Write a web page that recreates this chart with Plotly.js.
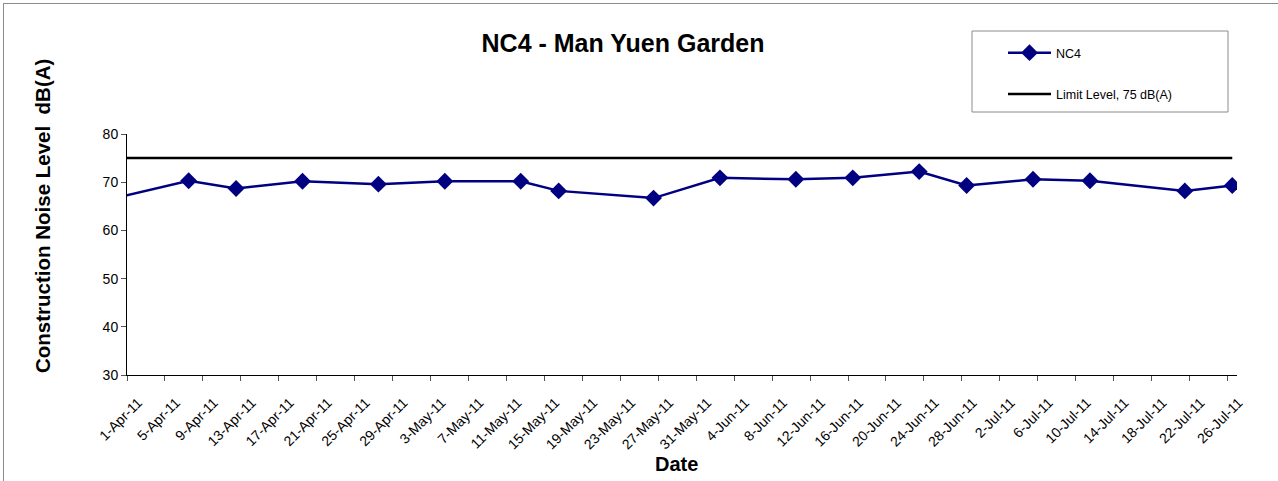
<!DOCTYPE html>
<html>
<head>
<meta charset="utf-8">
<script src="https://cdn.plot.ly/plotly-3.0.1.min.js"></script>
<style>
  body { margin: 0; background: #ffffff; overflow: hidden; }
  #chart { position: absolute; left: 0; top: 0; width: 1278px; height: 481px; }
  #frame { position: absolute; left: 3px; top: 3px; width: 1300px; height: 500px;
           border: 1px solid #8c8c8c; pointer-events: none; }
</style>
</head>
<body>
<div id="chart"></div>
<div id="frame"></div>
<script>
// monitoring dates (first one sits before the axis start, so its segment is clipped)
var dates = ['2011-03-28', '2011-04-07', '2011-04-12', '2011-04-19', '2011-04-27',
             '2011-05-04', '2011-05-12', '2011-05-16', '2011-05-26', '2011-06-02',
             '2011-06-10', '2011-06-16', '2011-06-23', '2011-06-28', '2011-07-05',
             '2011-07-11', '2011-07-21', '2011-07-26'];
// measured noise level at NC4, dB(A)
var nc4Levels = [65.7, 70.3, 68.7, 70.2, 69.6,
                 70.2, 70.2, 68.2, 66.7, 70.9,
                 70.6, 70.9, 72.2, 69.3, 70.6,
                 70.3, 68.2, 69.3];
// limit level line
var limitDates = ['2011-03-28', '2011-07-26'];
var limitLevels = [75, 75];

var W = 1278, H = 481;
var ml = 127, mr = 41, mt = 134, mb = 106;
var pw = W - ml - mr, ph = H - mt - mb;

// pixel -> paper helpers
function px2x(px) { return (px - ml) / pw; }
function px2y(py) { return (H - mb - py) / ph; }

// excel date axis puts each point in the middle of its day slot
function midDay(d) { return d + ' 12:00'; }

var font = 'Liberation Sans, Arial, sans-serif';

var traces = [
  {
    type: 'scatter',
    mode: 'lines+markers',
    name: 'NC4',
    legendgroup: 'a',
    x: dates.map(midDay),
    y: nc4Levels,
    line: {color: '#000080', width: 2.5},
    marker: {symbol: 'diamond', size: 13, color: '#000080'}
  },
  {
    type: 'scatter',
    mode: 'lines',
    name: 'Limit Level, 75 dB(A)',
    legendgroup: 'b',
    x: limitDates.map(midDay),
    y: limitLevels,
    line: {color: '#000000', width: 2.5}
  }
];

var layout = {
  width: W,
  height: H,
  margin: {l: ml, r: mr, t: mt, b: mb},
  paper_bgcolor: '#ffffff',
  plot_bgcolor: '#ffffff',
  font: {family: font, size: 12, color: '#000000'},
  showlegend: true,
  title: {
    text: '<b>NC4 - Man Yuen Garden</b>',
    font: {family: font, size: 25, color: '#000000'},
    xref: 'container', x: 623 / W, xanchor: 'center',
    yref: 'container', y: 1 - 43 / H, yanchor: 'middle'
  },
  xaxis: {
    type: 'date',
    range: ['2011-04-01', '2011-07-27'],
    tick0: '2011-04-01',
    dtick: 4 * 86400000,
    tickformat: '%-d-%b-%y',
    tickangle: -45,
    tickfont: {family: font, size: 14},
    ticklabelshift: 11,
    ticklabelstandoff: 8,
    ticks: 'outside',
    ticklen: 5,
    tickcolor: '#555555',
    showline: true,
    linecolor: '#000000',
    linewidth: 1,
    showgrid: false,
    zeroline: false,
    fixedrange: true
  },
  yaxis: {
    range: [30, 80],
    dtick: 10,
    tickfont: {family: font, size: 14},
    ticks: 'outside',
    ticklen: 5,
    tickcolor: '#555555',
    showline: true,
    linecolor: '#000000',
    linewidth: 1,
    showgrid: false,
    zeroline: false,
    fixedrange: true
  },
  legend: {
    x: px2x(1003), xanchor: 'left',
    y: px2y(38), yanchor: 'top',
    bgcolor: 'rgba(0,0,0,0)',
    borderwidth: 0,
    font: {family: font, size: 12.5},
    itemwidth: 43,
    tracegroupgap: 22
  },
  shapes: [
    // legend frame
    {type: 'rect', xref: 'paper', yref: 'paper',
     x0: px2x(972), x1: px2x(1228), y0: px2y(112), y1: px2y(31),
     line: {color: '#8c8c8c', width: 1}, fillcolor: 'rgba(0,0,0,0)'}
  ],
  annotations: [
    {text: '<b>Construction Noise Level  dB(A)</b>', textangle: -90,
     xref: 'paper', yref: 'paper', x: px2x(42), y: px2y(216),
     xanchor: 'center', yanchor: 'middle', showarrow: false,
     font: {family: font, size: 20.5, color: '#000000'}},
    {text: '<b>Date</b>',
     xref: 'paper', yref: 'paper', x: px2x(676), y: px2y(464),
     xanchor: 'center', yanchor: 'middle', showarrow: false,
     font: {family: font, size: 20, color: '#000000'}}
  ]
};

Plotly.newPlot('chart', traces, layout, {displayModeBar: false, staticPlot: true});
</script>
</body>
</html>
